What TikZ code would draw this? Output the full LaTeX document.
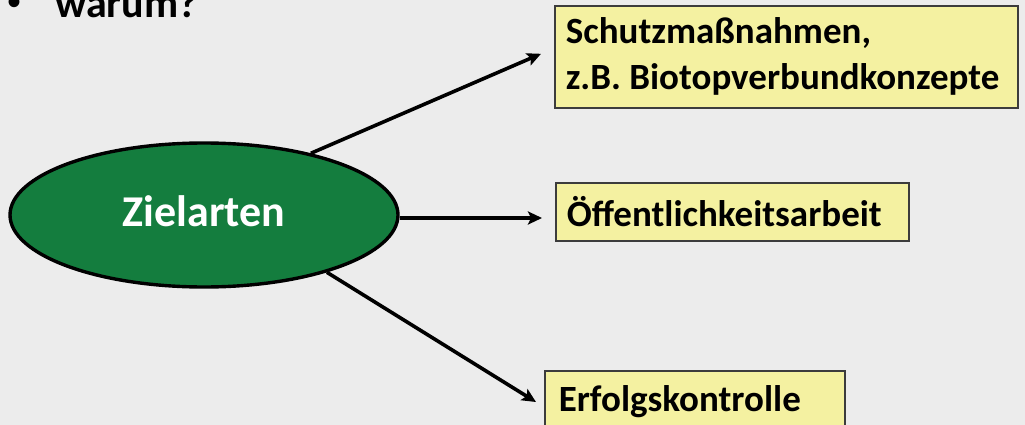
\documentclass[tikz,border=0pt]{standalone}
\usepackage{fontspec}
\setmainfont{Carlito}
\newfontfamily\bulletfont{Liberation Sans}
\usetikzlibrary{shapes.geometric,arrows.meta,calc}
\definecolor{bg}{RGB}{236,236,236}
\definecolor{zielgreen}{RGB}{20,125,62}
\definecolor{boxyellow}{RGB}{244,241,161}
\definecolor{boxborder}{RGB}{60,60,60}
\tikzset{
  arr/.style={line width=3.6pt,-{Stealth[length=14pt,width=13pt,inset=3pt]}},
  yellowbox/.style={draw=boxborder,line width=1.6pt,fill=boxyellow,anchor=north west,
    font=\fontsize{37}{46}\selectfont\bfseries,align=flush left,inner xsep=11pt},
}
\frenchspacing
\begin{document}
\begin{tikzpicture}[x=1pt,y=-1pt]
\useasboundingbox (0,0) rectangle (1025,425);
\clip (0,0) rectangle (1025,425);
\fill[bg] (0,0) rectangle (1025,425);
\node[anchor=center,inner sep=0,font=\bulletfont\fontsize{40}{40}\selectfont] (bul) at (15,6) {\textbullet};
\node[anchor=base west,inner sep=0,font=\fontsize{42}{42}\selectfont\bfseries] (warum) at (55,18) {warum?};
\node[ellipse,draw=black,line width=3.4pt,fill=zielgreen,minimum width=388pt,minimum height=144pt,inner sep=0,
  text=white,font=\fontsize{44}{44}\selectfont\bfseries,text depth=8pt] (ziel) at (204,215) {Zielarten};
\node[yellowbox,minimum width=463pt,minimum height=102pt,text width=441pt] (box1) at (554,5)
  {Schutzmaßnahmen,\\z.B. Biotopverbundkonzepte};
\node[yellowbox,minimum width=353pt,minimum height=58pt,text width=331pt] (box2) at (555,182)
  {Öffentlichkeitsarbeit};
\node[yellowbox,minimum width=300pt,text width=272pt,inner xsep=14pt,inner ysep=12pt,text height=29pt,text depth=40pt] (box3) at (544,370)
  {Erfolgskontrolle};
\draw[arr] (ziel.30) -- ($(box1.west)+(-13,-3)$);
\draw[arr] ($(ziel.east)+(0,3)$) -- ($(box2.west|-ziel.east)+(-13,3)$);
\draw[arr] (ziel.-25) -- ($(box3.north west)+(-8,32)$);
\end{tikzpicture}
\end{document}
